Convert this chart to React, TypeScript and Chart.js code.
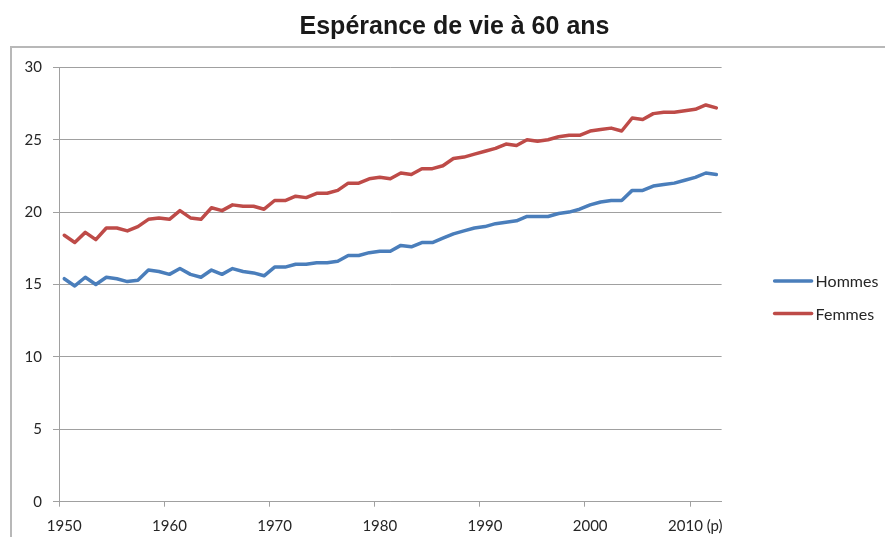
import React, { useEffect, useRef } from 'react';
import { Chart, registerables } from 'chart.js';

Chart.register(...registerables);

const chartTitle = 'Espérance de vie à 60 ans';

const years = [
  '1950', '1951', '1952', '1953', '1954', '1955', '1956', '1957', '1958', '1959',
  '1960', '1961', '1962', '1963', '1964', '1965', '1966', '1967', '1968', '1969',
  '1970', '1971', '1972', '1973', '1974', '1975', '1976', '1977', '1978', '1979',
  '1980', '1981', '1982', '1983', '1984', '1985', '1986', '1987', '1988', '1989',
  '1990', '1991', '1992', '1993', '1994', '1995', '1996', '1997', '1998', '1999',
  '2000', '2001', '2002', '2003', '2004', '2005', '2006', '2007', '2008', '2009',
  '2010', '2011', '2012',
];

const xTickLabels = ['1950', '1960', '1970', '1980', '1990', '2000', '2010 (p)'];
const xTickEvery = 10;

const hommes = [
  15.4, 14.9, 15.5, 15.0, 15.5, 15.4, 15.2, 15.3, 16.0, 15.9,
  15.7, 16.1, 15.7, 15.5, 16.0, 15.7, 16.1, 15.9, 15.8, 15.6,
  16.2, 16.2, 16.4, 16.4, 16.5, 16.5, 16.6, 17.0, 17.0, 17.2,
  17.3, 17.3, 17.7, 17.6, 17.9, 17.9, 18.2, 18.5, 18.7, 18.9,
  19.0, 19.2, 19.3, 19.4, 19.7, 19.7, 19.7, 19.9, 20.0, 20.2,
  20.5, 20.7, 20.8, 20.8, 21.5, 21.5, 21.8, 21.9, 22.0, 22.2,
  22.4, 22.7, 22.6,
];

const femmes = [
  18.4, 17.9, 18.6, 18.1, 18.9, 18.9, 18.7, 19.0, 19.5, 19.6,
  19.5, 20.1, 19.6, 19.5, 20.3, 20.1, 20.5, 20.4, 20.4, 20.2,
  20.8, 20.8, 21.1, 21.0, 21.3, 21.3, 21.5, 22.0, 22.0, 22.3,
  22.4, 22.3, 22.7, 22.6, 23.0, 23.0, 23.2, 23.7, 23.8, 24.0,
  24.2, 24.4, 24.7, 24.6, 25.0, 24.9, 25.0, 25.2, 25.3, 25.3,
  25.6, 25.7, 25.8, 25.6, 26.5, 26.4, 26.8, 26.9, 26.9, 27.0,
  27.1, 27.4, 27.2,
];

const yMin = 0;
const yMax = 30;
const yStep = 5;

const seriesNames = ['Hommes', 'Femmes'];
const seriesColors = ['#4a7ebb', '#be4b48'];

const GRID = '#a0a0a0';
const TEXT = '#262626';
const FONT = 'Lato, "Open Sans", sans-serif';

const sideLegend = {
  id: 'sideLegend',
  afterDraw(chart: any) {
    const ctx = chart.ctx;
    const x0 = chart.chartArea.right + 53;
    ctx.save();
    chart.data.datasets.forEach((ds: any, i: number) => {
      const y = 281 + i * 32.5;
      ctx.strokeStyle = ds.borderColor;
      ctx.lineWidth = 3.5;
      ctx.lineCap = 'round';
      ctx.beginPath();
      ctx.moveTo(x0, y);
      ctx.lineTo(x0 + 37, y);
      ctx.stroke();
      ctx.fillStyle = TEXT;
      ctx.font = '16px ' + FONT;
      ctx.textBaseline = 'middle';
      ctx.textAlign = 'left';
      ctx.fillText(ds.label, x0 + 41, y + 1);
    });
    ctx.restore();
  },
};

export default function App() {
  const canvasRef = useRef<HTMLCanvasElement | null>(null);

  useEffect(() => {
    const canvas = canvasRef.current;
    if (!canvas) return;
    const chart = new Chart(canvas, {
      type: 'line',
      data: {
        labels: years,
        datasets: [
          {
            label: seriesNames[0],
            data: hommes,
            borderColor: seriesColors[0],
            backgroundColor: seriesColors[0],
            borderWidth: 3.5,
            pointRadius: 0,
            tension: 0,
            borderJoinStyle: 'round',
            borderCapStyle: 'round',
          },
          {
            label: seriesNames[1],
            data: femmes,
            borderColor: seriesColors[1],
            backgroundColor: seriesColors[1],
            borderWidth: 3.5,
            pointRadius: 0,
            tension: 0,
            borderJoinStyle: 'round',
            borderCapStyle: 'round',
          },
        ],
      },
      options: {
        responsive: false,
        animation: false,
        devicePixelRatio: 1,
        layout: { padding: { left: 24, right: 0, top: 0, bottom: 0 } },
        plugins: {
          legend: { display: false },
          tooltip: { enabled: false },
          title: {
            display: true,
            text: chartTitle,
            color: '#1a1a1a',
            font: { family: '"Liberation Sans", Arial, sans-serif', size: 25, weight: 'bold', lineHeight: 1.2 },
            padding: { top: 12, bottom: 25.3 },
          },
        },
        scales: {
          x: {
            type: 'category',
            offset: true,
            grid: {
              offset: true,
              drawOnChartArea: false,
              drawTicks: true,
              tickLength: 5,
              color: (c: any) => (c.index % xTickEvery === 0 ? GRID : 'rgba(0,0,0,0)'),
            },
            border: { display: true, color: GRID, width: 1 },
            ticks: {
              autoSkip: false,
              maxRotation: 0,
              minRotation: 0,
              padding: 10,
              color: TEXT,
              font: { family: FONT, size: 15 },
              callback: (_v: any, index: number) =>
                index % xTickEvery === 0 ? xTickLabels[index / xTickEvery] : '',
            },
            afterFit: (s: any) => {
              s.height = 35.3;
            },
          },
          y: {
            type: 'linear',
            position: 'left',
            min: yMin,
            max: yMax,
            grid: { color: GRID, lineWidth: 1, tickLength: 6, drawTicks: true },
            border: { display: true, color: GRID, width: 1 },
            ticks: {
              stepSize: yStep,
              padding: 11,
              color: TEXT,
              font: { family: FONT, size: 15 },
            },
            afterFit: (s: any) => {
              s.width = 35;
            },
          },
          yRight: {
            type: 'linear',
            position: 'right',
            display: true,
            grid: { display: false, drawTicks: false },
            border: { display: false },
            ticks: { display: false },
            afterFit: (s: any) => {
              s.width = 163.4;
            },
          },
        },
      },
      plugins: [sideLegend],
    });
    return () => chart.destroy();
  }, []);

  return (
    <div
      style={{
        position: 'fixed',
        left: 0,
        top: 0,
        width: 885,
        height: 537,
        overflow: 'hidden',
        background: '#ffffff',
      }}
    >
      <div
        style={{
          position: 'absolute',
          left: 10,
          top: 46,
          width: 1000,
          height: 1000,
          border: '2px solid #b8b8b8',
        }}
      />
      <canvas
        ref={canvasRef}
        width={885}
        height={537}
        style={{ position: 'absolute', left: 0, top: 0, width: 885, height: 537 }}
      />
    </div>
  );
}
